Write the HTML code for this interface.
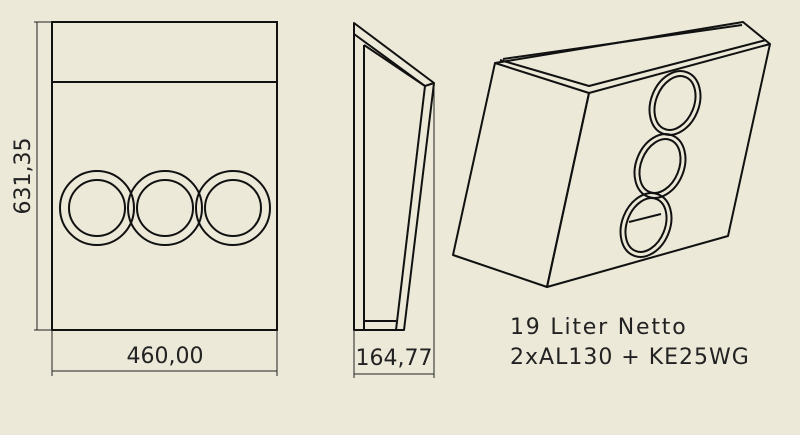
<!DOCTYPE html>
<html><head><style>
html,body{margin:0;padding:0;background:#ece9d9;}
svg{display:block}
text{font-family:"DejaVu Sans","Liberation Sans",sans-serif;fill:#222;}
</style></head><body>
<svg width="800" height="435" viewBox="0 0 800 435" xmlns="http://www.w3.org/2000/svg">
<rect width="800" height="435" fill="#ece9d9"/>
<g stroke="#111" stroke-width="2" fill="none">
<rect x="52" y="22" width="225" height="308"/>
<line x1="52" y1="82" x2="277" y2="82"/>
<circle cx="97" cy="208" r="37"/><circle cx="97" cy="208" r="28"/>
<circle cx="165" cy="208" r="37"/><circle cx="165" cy="208" r="28"/>
<circle cx="233" cy="208" r="37"/><circle cx="233" cy="208" r="28"/>
</g>
<g stroke="#222" stroke-width="1" fill="none">
<line x1="37" y1="22" x2="37" y2="330"/>
<line x1="34" y1="22" x2="52" y2="22"/>
<line x1="34" y1="330" x2="52" y2="330"/>
<line x1="52" y1="330" x2="52" y2="376"/>
<line x1="277" y1="330" x2="277" y2="376"/>
<line x1="52" y1="371" x2="277" y2="371"/>
<line x1="354" y1="330" x2="354" y2="378"/>
<line x1="434" y1="85" x2="434" y2="378"/>
<line x1="354" y1="374" x2="434" y2="374"/>
</g>
<text x="0" y="0" font-size="22" text-anchor="middle" transform="translate(30,176) rotate(-90)">631,35</text>
<text x="165" y="363" font-size="22" text-anchor="middle">460,00</text>
<text x="394" y="365" font-size="22" text-anchor="middle">164,77</text>
<g stroke="#111" stroke-width="2" fill="none" stroke-linejoin="round">
<polygon points="354,23 434,83 404,330 354,330"/>
<polyline points="354,34 425,86 434,83"/>
<polyline points="364,45 364,330"/>
<line x1="364" y1="45" x2="425" y2="86"/>
<line x1="425" y1="86" x2="396" y2="330"/>
<line x1="364" y1="321" x2="396" y2="321"/>
</g>
<g stroke="#111" stroke-width="2" fill="none" stroke-linejoin="round">
<polygon points="495,63 589,93 547,287 453,255"/>
<polygon points="589,93 770,44 728,236 547,287"/>
<polyline points="495,63 743,22 770,44"/>
<polyline points="500,60 589,86 766,40"/>
<line x1="503" y1="59" x2="742" y2="25"/>
<g transform="rotate(22 675 103)"><ellipse cx="675" cy="103" rx="24" ry="33"/><ellipse cx="675" cy="103" rx="19" ry="28"/></g>
<g transform="rotate(22 660 166)"><ellipse cx="660" cy="166" rx="24" ry="33"/><ellipse cx="660" cy="166" rx="19" ry="28"/></g>
<g transform="rotate(22 646 225)"><ellipse cx="646" cy="225" rx="24" ry="33"/><ellipse cx="646" cy="225" rx="19" ry="28"/></g>
<line x1="629" y1="222" x2="661" y2="214"/>
</g>
<text x="510" y="334" font-size="22" letter-spacing="1.8">19 Liter Netto</text>
<text x="510" y="364" font-size="22" letter-spacing="1">2xAL130 + KE25WG</text>
</svg>
</body></html>
